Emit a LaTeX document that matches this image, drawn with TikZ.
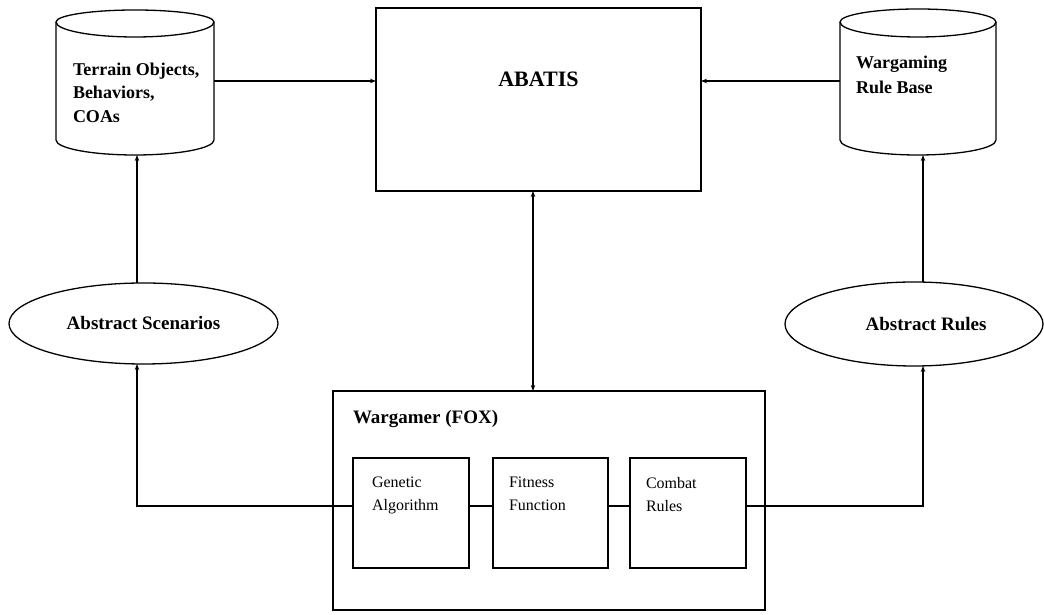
\documentclass[tikz,border=0pt]{standalone}
\usepackage{fontspec}
\setmainfont{Liberation Serif}
\usetikzlibrary{arrows.meta,shapes.geometric,calc}
\begin{document}
\begin{tikzpicture}[x=1pt,y=1pt,
  every node/.style={inner sep=0pt, outer sep=0pt},
  box/.style={draw, line width=1.3pt, rectangle},
  ell/.style={draw, line width=1.3pt, ellipse},
  conn/.style={line width=1.3pt},
  arr/.style={conn, -{Stealth[length=6pt,width=4.5pt]}},
  dbl/.style={conn, {Stealth[length=6pt,width=4.5pt]}-{Stealth[length=6pt,width=4.5pt]}},
  dblab/.style={font=\fontsize{18}{23.5}\selectfont\bfseries, align=left, anchor=north west},
  biglab/.style={font=\fontsize{19}{23}\selectfont\bfseries},
  inlab/.style={font=\fontsize{16}{23}\selectfont, align=left, anchor=north west, xshift=16pt, yshift=-19pt},
  inbox/.style={box, minimum width=116pt, minimum height=110pt}
]
\useasboundingbox (0,0) rectangle (1044,615);

% databases (cylinder bodies)
\node[minimum width=158pt, minimum height=118pt,
  label={[dblab, xshift=17pt, yshift=-41pt]north west:Terrain Objects,\\Behaviors,\\COAs}]
  (terrain) at (135,534) {};
\draw[conn] (terrain.north west) arc[start angle=180,end angle=0,x radius=79pt,y radius=12pt]
  -- (terrain.south east) arc[start angle=0,end angle=-180,x radius=79pt,y radius=15pt] -- cycle;
\draw[conn] (terrain.north west) arc[start angle=180,end angle=360,x radius=79pt,y radius=15pt];

\node[minimum width=156pt, minimum height=118pt,
  label={[dblab, font=\fontsize{18}{25}\selectfont\bfseries, xshift=16pt, yshift=-34pt]north west:Wargaming\\Rule Base}]
  (rulebase) at (918,534) {};
\draw[conn] (rulebase.north west) arc[start angle=180,end angle=0,x radius=78pt,y radius=13pt]
  -- (rulebase.south east) arc[start angle=0,end angle=-180,x radius=78pt,y radius=15pt] -- cycle;
\draw[conn] (rulebase.north west) arc[start angle=180,end angle=360,x radius=78pt,y radius=15pt];

% ABATIS
\node[box, minimum width=325pt, minimum height=183pt,
  label={[anchor=north, yshift=-64pt, font=\fontsize{22}{26}\selectfont\bfseries]north:ABATIS}]
  (abatis) at (538.5,515.5) {};

% ellipses
\node[ell, biglab, minimum width=269pt, minimum height=81pt] (scen) at (143.5,291.5) {Abstract Scenarios};
\node[ell, minimum width=258pt, minimum height=84pt,
  label={[biglab, xshift=12pt]center:Abstract Rules}] (rules) at (914,291) {};

% Wargamer
\node[box, minimum width=432pt, minimum height=219pt,
  label={[biglab, anchor=north west, xshift=20pt, yshift=-19pt]north west:Wargamer (FOX)}]
  (fox) at (549,114.5) {};
\node[inbox, label={[inlab, xshift=3pt]north west:Genetic\\Algorithm}] (ga) at (411,102) {};
\node[inbox, minimum width=115pt, label={[inlab]north west:Fitness\\Function}] (fit) at (550.5,102) {};
\node[inbox, label={[inlab]north west:Combat\\Rules}] (combat) at (688,102) {};

% helper coordinates
\coordinate (lx) at (137,0);
\coordinate (rx) at (923,0);
\coordinate (vx) at (533,0);
\coordinate (row) at (0,109);

% connectors
\draw[arr] (terrain.east) -- (terrain.east -| abatis.west);
\draw[arr] (rulebase.west) -- (rulebase.west -| abatis.east);
\draw[dbl] (abatis.south -| vx) -- (fox.north -| vx);
\draw[arr] (scen.north -| lx) -- ($(terrain.south -| lx)+(0,-15)$);
\draw[arr] (rules.north -| rx) -- ($(rulebase.south -| rx)+(0,-15)$);
\draw[arr] (ga.west |- row) -| (scen.south -| lx);
\draw[arr] (combat.east |- row) -| (rules.south -| rx);
\draw[conn] (ga.east |- row) -- (fit.west |- row);
\draw[conn] (fit.east |- row) -- (combat.west |- row);
\end{tikzpicture}
\end{document}
